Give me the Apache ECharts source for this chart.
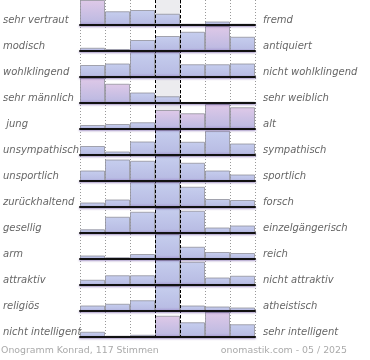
<!DOCTYPE html>
<html><head><meta charset="utf-8">
<script src="https://cdn.jsdelivr.net/npm/echarts@6/dist/echarts.min.js"></script>
<style>html,body{margin:0;padding:0;background:#fff}#c{width:370px;height:360px}</style>
</head><body><div id="c"></div>
<script>
const leftLabels = ['sehr vertraut','modisch','wohlklingend','sehr männlich',' jung','unsympathisch','unsportlich','zurückhaltend','gesellig','arm','attraktiv','religiös','nicht intelligent'];
const rightLabels = ['fremd','antiquiert','nicht wohlklingend','sehr weiblich','alt','sympathisch','sportlich','forsch','einzelgängerisch','reich','nicht attraktiv','atheistisch','sehr intelligent'];
const columns = ['1','2','3','4','5','6','7'];
// relative share per row (row maximum = 100)
const rowValues = [
  [100, 55, 60, 45, 5, 14, 5],
  [13, 8, 44, 60, 77, 100, 57],
  [48, 54, 100, 100, 51, 51, 54],
  [100, 77, 42, 27, 0, 0, 5],
  [16, 20, 27, 76, 63, 100, 87],
  [36, 14, 54, 100, 53, 97, 46],
  [42, 86, 81, 100, 73, 42, 26],
  [18, 30, 100, 100, 81, 32, 28],
  [15, 65, 85, 100, 89, 22, 30],
  [14, 7, 20, 100, 49, 28, 24],
  [21, 39, 39, 100, 93, 30, 37],
  [22, 29, 43, 100, 22, 18, 14],
  [21, 5, 9, 85, 59, 100, 51]
];
// bars drawn with the pinkish tint
const pinkBars = {0:[0], 1:[5], 3:[0,1], 4:[3,4,5,6], 12:[3,5]};
// rows with grey highlighted middle column
const greyRows = [0, 3, 4];

const FONT = 'DejaVu Sans';
const blueGrad = () => new echarts.graphic.LinearGradient(0,0,0,1,[{offset:0,color:'#c6ceee'},{offset:0.85,color:'#b9bde4'},{offset:1,color:'#a99ed3'}]);
const pinkGrad = () => new echarts.graphic.LinearGradient(0,0,0,1,[{offset:0,color:'#dfc9e8'},{offset:0.85,color:'#bfbbe2'},{offset:1,color:'#a99ed3'}]);

const grids=[], xAxes=[], yAxes=[], series=[];
// grid 0: vertical guide lines
grids.push({left:80,width:175,top:0,height:338});
xAxes.push({gridIndex:0,type:'value',min:0,max:7,interval:1,axisLine:{show:false},axisTick:{show:false},axisLabel:{show:false},
  splitLine:{show:true,lineStyle:{color:'#999',type:[1,2],width:1}}});
yAxes.push({gridIndex:0,type:'value',min:0,max:1,show:false});
series.push({type:'line',xAxisIndex:0,yAxisIndex:0,data:[[0,0]],symbol:'none',lineStyle:{opacity:0},silent:true,
  markLine:{silent:true,symbol:'none',label:{show:false},lineStyle:{color:'#000',type:[3,2],width:1},data:[{xAxis:3},{xAxis:4}],animation:false},z:6});
// grid 1: labels
grids.push({left:80,width:175,top:7,height:338});
xAxes.push({gridIndex:1,type:'value',min:0,max:1,show:false});
const lblStyle = {fontFamily:FONT,fontStyle:'italic',fontSize:10,color:'#666'};
yAxes.push({gridIndex:1,type:'category',inverse:true,data:leftLabels,position:'left',axisLine:{show:false},axisTick:{show:false},
  axisLabel:Object.assign({align:'left',margin:80},lblStyle)});
yAxes.push({gridIndex:1,type:'category',inverse:true,data:rightLabels,position:'right',axisLine:{show:false},axisTick:{show:false},
  axisLabel:Object.assign({align:'left',margin:8},lblStyle)});

rowValues.forEach((vals,k)=>{
  const gi = grids.length;
  grids.push({left:80,width:175,top:26*k,height:25});
  xAxes.push({gridIndex:gi,type:'category',data:columns,z:5,axisTick:{show:false},axisLabel:{show:false},
    axisLine:{show:true,lineStyle:{color:'#111',width:2,shadowColor:'rgba(90,60,150,0.55)',shadowBlur:2,shadowOffsetY:1}}});
  const yi = yAxes.length;
  yAxes.push({gridIndex:gi,type:'value',min:0,max:100,show:false});
  const xi = xAxes.length-1;
  if (greyRows.includes(k)) {
    series.push({type:'bar',xAxisIndex:xi,yAxisIndex:yi,silent:true,barGap:'-100%',barCategoryGap:'0%',z:1,
      itemStyle:{color:'#ececef'},data:columns.map((c,i)=>i===3?100:null)});
  }
  const pk = pinkBars[k]||[];
  series.push({type:'bar',xAxisIndex:xi,yAxisIndex:yi,barGap:'-100%',barCategoryGap:'0%',z:2,
    data:vals.map((v,i)=>({value:v,itemStyle:{color:pk.includes(i)?pinkGrad():blueGrad()}})),
    itemStyle:{borderColor:'rgba(140,140,150,0.75)',borderWidth:1}});
});

const chart = echarts.init(document.getElementById('c'));
chart.setOption({
  animation:false,
  title:[
    {text:'Onogramm Konrad, 117 Stimmen',left:1,top:346,padding:0,textStyle:{fontFamily:FONT,fontSize:9.4,color:'#aaa',fontWeight:'normal'}},
    {text:'onomastik.com - 05 / 2025',right:23,top:346,padding:0,textStyle:{fontFamily:FONT,fontSize:9.4,color:'#aaa',fontWeight:'normal'}}
  ],
  grid:grids, xAxis:xAxes, yAxis:yAxes, series:series
});
</script></body></html>
